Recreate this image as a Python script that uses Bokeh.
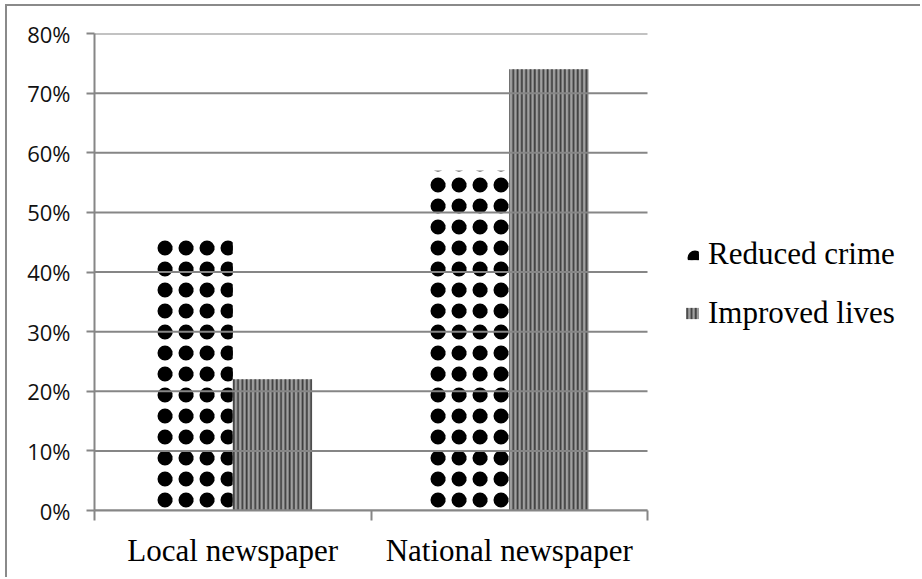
from bokeh.plotting import figure
from bokeh.models import (Range1d, LinearAxis, FixedTicker, NumeralTickFormatter,
                          ColumnDataSource, Legend, LegendItem)
from bokeh.transform import dodge
from bokeh.embed import file_html
from bokeh.resources import INLINE

# ---- data ----
categories = ["Local newspaper", "National newspaper"]
series_names = ["Reduced crime", "Improved lives"]
reduced_crime = [0.46, 0.57]
improved_lives = [0.22, 0.74]
y_ticks = [0.0, 0.1, 0.2, 0.3, 0.4, 0.5, 0.6, 0.7, 0.8]

n = len(categories)
centers = [i + 0.5 for i in range(n)]
bounds = [float(i) for i in range(n + 1)]

src = ColumnDataSource(dict(x=centers, rc=reduced_crime, il=improved_lives))
gsrc = ColumnDataSource(dict(y=y_ticks, x0=[0] * len(y_ticks), x1=[n] * len(y_ticks)))

W, H = 915, 573
left, plot_w = 87, 553          # frame left and width of the category area (px)
frame_w = W - left
p = figure(width=W, height=H, output_backend="svg", toolbar_location=None,
           x_range=Range1d(0, n * frame_w / plot_w), y_range=Range1d(0, 0.8),
           min_border_left=left, min_border_right=0, min_border_top=27,
           min_border_bottom=69, x_axis_type=None, y_axis_type=None)
p.outline_line_color = None
p.background_fill_color = "white"
p.border_fill_color = "white"
p.margin = (4, 0, 0, 5)
p.styles = {"border-top": "2px solid #8a8a8a", "border-left": "2px solid #8a8a8a"}
p.xgrid.visible = False
p.ygrid.visible = False

bw = 0.287
# diamond-like dot texture: a filled dot plus a ring on the same lattice
r1a = p.vbar(x=dodge("x", -bw / 2), top="rc", width=bw, source=src,
             fill_color="white", line_color=None,
             hatch_pattern="dot", hatch_color="black", hatch_scale=21)
r1b = p.vbar(x=dodge("x", -bw / 2), top="rc", width=bw, source=src,
             fill_alpha=0, line_color=None,
             hatch_pattern="ring", hatch_color="black",
             hatch_scale=21, hatch_weight=4.5)
r2 = p.vbar(x=dodge("x", bw / 2), top="il", width=bw, source=src,
            fill_color="#a0a0a0", line_color=None,
            hatch_pattern="vertical_line", hatch_color="#3c3c3c",
            hatch_scale=4.3, hatch_weight=1.8)

grid_col = "#868686"
# horizontal gridlines over the category area only
p.segment(x0="x0", x1="x1", y0="y", y1="y", source=gsrc,
          line_color=grid_col, line_width=2)

# y axis
yax = LinearAxis(ticker=FixedTicker(ticks=y_ticks),
                 formatter=NumeralTickFormatter(format="0%"))
yax.axis_line_color = grid_col
yax.axis_line_width = 2
yax.major_tick_line_color = grid_col
yax.major_tick_line_width = 2
yax.major_tick_out = 8
yax.major_tick_in = 0
yax.minor_tick_line_color = None
yax.major_label_text_font = "Open Sans"
yax.major_label_text_font_size = "22px"
yax.major_label_text_color = "#111111"
yax.major_label_standoff = 16
p.add_layout(yax, "left")

# x axis
xax = LinearAxis(ticker=FixedTicker(ticks=centers, minor_ticks=bounds), bounds=(0, n))
xax.major_label_overrides = {c: name for c, name in zip(centers, categories)}
xax.axis_line_color = grid_col
xax.axis_line_width = 2
xax.major_tick_line_color = None
xax.major_tick_out = 0
xax.major_tick_in = 0
xax.minor_tick_line_color = grid_col
xax.minor_tick_line_width = 2
xax.minor_tick_out = 10
xax.minor_tick_in = 0
xax.major_label_text_font = "Liberation Serif"
xax.major_label_text_font_size = "31px"
xax.major_label_text_color = "black"
xax.major_label_standoff = 12
p.add_layout(xax, "below")

legend = Legend(items=[LegendItem(label=series_names[0], renderers=[r1a, r1b]),
                       LegendItem(label=series_names[1], renderers=[r2])],
                location=(590, 179))
legend.label_text_font = "Liberation Serif"
legend.label_text_font_size = "31px"
legend.label_text_color = "black"
legend.glyph_width = 16
legend.glyph_height = 14
legend.label_standoff = 8
legend.spacing = 23
legend.padding = 0
legend.margin = 0
legend.border_line_color = None
legend.background_fill_alpha = 0
p.add_layout(legend, "center")

open("out.html", "w").write(file_html(p, INLINE))
